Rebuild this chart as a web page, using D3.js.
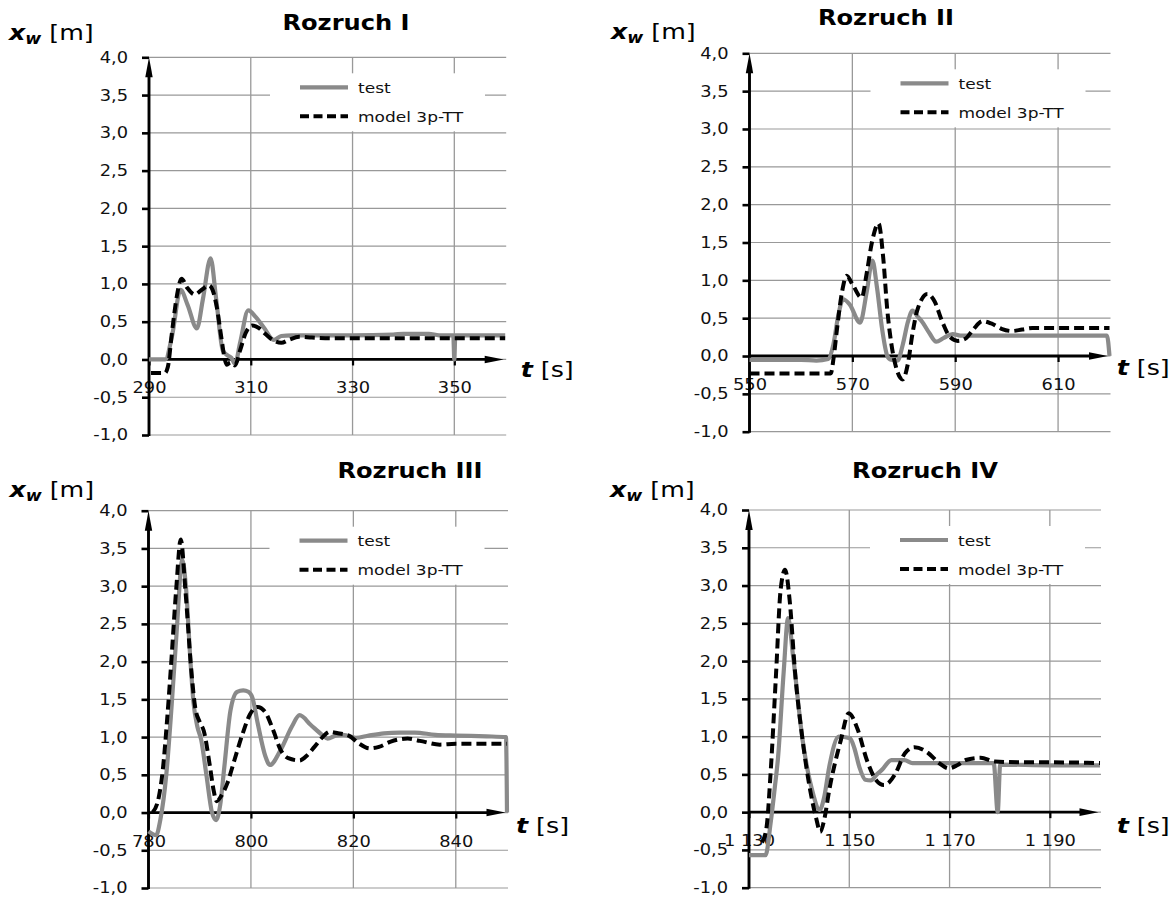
<!DOCTYPE html>
<html><head><meta charset="utf-8">
<script src="https://cdn.jsdelivr.net/npm/d3@7"></script>
<style>
html,body{margin:0;padding:0;background:#fff;}
svg{display:block;font-family:"DejaVu Sans",Verdana,sans-serif;}
</style></head><body>
<svg id="chart" width="1170" height="899"></svg>
<script>
// ---------------- data ----------------
const titles = ["Rozruch I", "Rozruch II", "Rozruch III", "Rozruch IV"];
const seriesNames = ["test", "model 3p-TT"];
const yTickValues = [-1, -0.5, 0, 0.5, 1, 1.5, 2, 2.5, 3, 3.5, 4];
const yTickLabels = ["-1,0", "-0,5", "0,0", "0,5", "1,0", "1,5", "2,0", "2,5", "3,0", "3,5", "4,0"];
const xDomains = [[290, 360], [550, 620], [780, 850], [1130, 1200]];
const xTickValues = [[290, 310, 330, 350], [550, 570, 590, 610], [780, 800, 820, 840], [1130, 1150, 1170, 1190]];
const xTickLabels = [["290", "310", "330", "350"], ["550", "570", "590", "610"], ["780", "800", "820", "840"], ["1 130", "1 150", "1 170", "1 190"]];

const r1Test = [[290,0],[293.2,0],[294.5,0.3],[296.2,0.92],[297.6,0.72],[299.4,0.41],[300.6,0.8],[302.1,1.34],[303.2,0.8],[304.5,0.12],[305.5,0.05],[306.2,0.02],[306.9,-0.06],[307.9,0.22],[309.5,0.65],[311,0.56],[312.6,0.42],[314.5,0.26],[316,0.31],[318,0.32],[330,0.32],[338,0.33],[340,0.34],[345,0.34],[347,0.32],[349.8,0.32],[350,0],[350.2,0.32],[360,0.32]];
const r1Model = [[290.4,-0.18],[293.1,-0.18],[293.7,-0.1],[294.5,0.35],[295.5,0.85],[296.4,1.07],[297.5,0.95],[299,0.86],[300.5,0.93],[301.8,0.98],[302.5,0.92],[303.3,0.7],[304.3,0.25],[304.9,0],[305.3,-0.07],[306,-0.04],[306.9,-0.08],[307.9,0.12],[309,0.35],[310.3,0.45],[311.5,0.42],[313,0.33],[314.5,0.25],[316,0.22],[317.5,0.26],[319.5,0.3],[322,0.29],[326,0.28],[360,0.28]];

const r2Test = [[550,-0.05],[560,-0.05],[563,-0.06],[565.3,-0.04],[566.3,0.15],[567.3,0.55],[568.2,0.75],[569.5,0.68],[571.5,0.44],[572.8,0.85],[573.9,1.26],[574.8,0.9],[575.8,0.35],[576.8,0],[577.5,-0.05],[578.8,-0.06],[579.8,0.15],[580.8,0.45],[581.7,0.6],[582.7,0.52],[583.6,0.45],[585,0.3],[586.3,0.19],[587.8,0.24],[589.5,0.29],[591,0.27],[600,0.27],[619.5,0.27],[620,0]];
const r2Model = [[550,-0.23],[565.8,-0.23],[566.4,0],[567,0.35],[568,0.85],[568.9,1.06],[570,0.95],[571.8,0.77],[572.8,1.1],[573.8,1.5],[575.1,1.75],[576,1.3],[576.8,0.6],[577.5,0.2],[578.5,-0.15],[579.8,-0.31],[580.8,-0.1],[581.7,0.3],[582.6,0.6],[584.6,0.82],[586,0.72],[587.5,0.45],[589,0.25],[590.5,0.2],[592,0.23],[593.5,0.35],[595.3,0.46],[597,0.43],[599,0.36],[601,0.33],[603,0.35],[605,0.37],[620,0.37]];

const r3Test = [[780,-0.25],[781.5,-0.3],[782.3,-0.1],[783.5,0.52],[784.5,1.4],[785.5,2.4],[786.6,3.35],[787.3,3.0],[788.2,2.0],[788.8,1.45],[789.5,1.15],[790.3,0.96],[791.3,0.5],[792.4,0],[793.2,-0.1],[794,0.1],[794.8,0.6],[796,1.35],[797.3,1.6],[798.5,1.62],[799.5,1.6],[800.3,1.52],[801.3,1.19],[802.8,0.75],[803.7,0.63],[805.8,0.83],[808,1.14],[809.5,1.29],[811.7,1.16],[813.9,1.03],[815,0.98],[816.5,1.02],[818,1.03],[820.5,0.99],[823,1.02],[826,1.05],[829,1.06],[832,1.06],[836,1.03],[840,1.02],[846,1.01],[849.8,1.0],[850,0]];
const r3Model = [[780.8,0],[782,0.2],[782.8,0.57],[783.6,1.2],[784.3,1.85],[785.4,2.95],[786.3,3.62],[787.2,2.95],[788.4,1.85],[789.1,1.4],[790,1.2],[790.8,1.08],[792,0.61],[792.7,0.3],[793.3,0.15],[794.2,0.22],[795.4,0.39],[796.8,0.7],[798.4,1.05],[799.8,1.3],[801.3,1.4],[802.8,1.33],[804.3,1.1],[805.8,0.83],[807.3,0.72],[809.5,0.69],[811,0.76],[812.4,0.87],[814,1.0],[815.4,1.07],[817,1.05],[819.1,1.02],[821,0.92],[823.2,0.85],[825,0.87],[827.3,0.94],[830.6,0.98],[833,0.95],[836.9,0.9],[840,0.91],[845,0.91],[850,0.91]];

const r4Test = [[1130,-0.57],[1133.3,-0.57],[1134.3,-0.15],[1135.1,0.3],[1135.8,0.73],[1136.9,1.84],[1137.8,2.57],[1138.8,2.06],[1140.7,0.95],[1142.6,0.29],[1144.1,0.03],[1145,0.2],[1146,0.6],[1147.9,1.0],[1150.1,0.98],[1151,0.85],[1152,0.6],[1153.2,0.43],[1154.3,0.42],[1155.5,0.5],[1156.5,0.56],[1158.4,0.69],[1161,0.69],[1162.6,0.65],[1170,0.65],[1178.8,0.65],[1179.6,0],[1180.1,0.63],[1190,0.62],[1200,0.62]];
const r4Model = [[1132.6,-0.4],[1133.5,-0.2],[1134.3,0.51],[1135.4,1.84],[1136.3,2.94],[1137.2,3.21],[1138.1,2.81],[1139.2,1.84],[1140.7,0.95],[1142.2,0.29],[1143.4,-0.08],[1144.2,-0.26],[1145,-0.1],[1146,0.29],[1148.3,0.95],[1149.9,1.31],[1151.7,1.09],[1153.5,0.69],[1155.4,0.42],[1156.9,0.36],[1158,0.4],[1159.2,0.51],[1161.1,0.78],[1163,0.86],[1165.6,0.79],[1167.9,0.65],[1169.8,0.58],[1171.5,0.62],[1173.2,0.69],[1176.2,0.72],[1179,0.67],[1185,0.66],[1190,0.66],[1200,0.65]];

const testSeries = [r1Test, r2Test, r3Test, r4Test];
const modelSeries = [r1Model, r2Model, r3Model, r4Model];

// ---------------- layout ----------------
const SX = 1.15; // horizontal stretch of glyphs
const layout = [
  {x0:149, x1:505.2, yTop:57.3, yBot:435,   title:[346,30],  yl:[9,39.5],    xl:[520.7,376.5]},
  {x0:749.5, x1:1109.5, yTop:53.3, yBot:431.7, title:[886,25], yl:[611,39], xl:[1116.7,375]},
  {x0:148.5, x1:507, yTop:510.7, yBot:888,  title:[410,478], yl:[9.4,496.5], xl:[516,833]},
  {x0:749, x1:1100, yTop:510, yBot:887.7,   title:[925,478], yl:[610,496.5], xl:[1116.7,833]}
];
const GRAY = "#8a8a8a", GRID = "#999999", INK = "#111";
const LW = 4.2;

const svg = d3.select("#chart");

function stext(g, x, y, anchor) {
  return g.append("text")
    .attr("transform", `translate(${x},${y}) scale(${SX},1)`)
    .attr("text-anchor", anchor || "start")
    .attr("fill", INK);
}

function drawPanel(i) {
  const L = layout[i];
  const g = svg.append("g");
  const x = d3.scaleLinear().domain(xDomains[i]).range([L.x0, L.x1]);
  const y = d3.scaleLinear().domain([-1, 4]).range([L.yBot, L.yTop]);
  const ax = L.x0, y0 = y(0);

  // gridlines
  g.append("g").selectAll("line").data(yTickValues).join("line")
    .attr("x1", ax).attr("x2", L.x1 + 1)
    .attr("y1", d => y(d)).attr("y2", d => y(d))
    .attr("stroke", GRID).attr("stroke-width", 1.2);
  g.append("g").selectAll("line").data(xTickValues[i].slice(1)).join("line")
    .attr("x1", d => x(d)).attr("x2", d => x(d))
    .attr("y1", y(4)).attr("y2", y(-1))
    .attr("stroke", GRID).attr("stroke-width", 1.3);

  // legend background
  g.append("rect").attr("x", ax + 121).attr("y", L.yTop + 16)
    .attr("width", 215).attr("height", 58).attr("fill", "#fff");

  // y axis ticks + labels
  const yAxis = d3.axisLeft(y).tickValues(yTickValues)
    .tickFormat((d, k) => yTickLabels[k]).tickSize(7).tickPadding(14);
  const ya = g.append("g").attr("transform", `translate(${ax},0)`).call(yAxis);
  ya.select(".domain").remove();
  ya.selectAll(".tick line").attr("stroke", "#000").attr("stroke-width", 2.6);
  ya.selectAll(".tick text").attr("x", -21 / SX).attr("transform", `scale(${SX},1)`)
    .attr("fill", INK).style("font-size", "15.5px").style("font-family", "DejaVu Sans");

  // x axis ticks + labels
  const xAxis = d3.axisBottom(x).tickValues(xTickValues[i])
    .tickFormat((d, k) => xTickLabels[i][k]).tickSize(6).tickPadding(17);
  const xa = g.append("g").attr("transform", `translate(0,${y0})`).call(xAxis);
  xa.select(".domain").remove();
  xa.selectAll(".tick line").attr("stroke", "#000").attr("stroke-width", 2.2);
  xa.selectAll(".tick text").attr("transform", `scale(${SX},1)`)
    .attr("fill", INK).style("font-size", "15.5px").style("font-family", "DejaVu Sans");

  // axis lines with arrows
  const tipY = y(4);
  g.append("line").attr("x1", ax).attr("x2", ax).attr("y1", y(-1) + 1).attr("y2", tipY + 16)
    .attr("stroke", "#000").attr("stroke-width", 2.9);
  g.append("path").attr("d", `M${ax},${tipY} L${ax - 3.7},${tipY + 20} L${ax + 3.7},${tipY + 20} Z`).attr("fill", "#000");
  const tipX = L.x1 - 1.5;
  g.append("line").attr("x1", ax).attr("x2", tipX - 16).attr("y1", y0).attr("y2", y0)
    .attr("stroke", "#000").attr("stroke-width", 2.8);
  g.append("path").attr("d", `M${tipX},${y0} L${tipX - 19},${y0 - 3.8} L${tipX - 19},${y0 + 3.8} Z`).attr("fill", "#000");

  // series
  const line = d3.line().x(d => x(d[0])).y(d => y(d[1])).curve(d3.curveMonotoneX);
  g.append("path").datum(testSeries[i]).attr("d", line)
    .attr("fill", "none").attr("stroke", GRAY).attr("stroke-width", LW)
    .attr("stroke-linejoin", "round");
  g.append("path").datum(modelSeries[i]).attr("d", line)
    .attr("fill", "none").attr("stroke", "#000").attr("stroke-width", 4)
    .attr("stroke-dasharray", "10,5");

  // legend
  const lx = ax + 151, lw = 48;
  g.append("line").attr("x1", lx).attr("x2", lx + lw).attr("y1", L.yTop + 30).attr("y2", L.yTop + 30)
    .attr("stroke", GRAY).attr("stroke-width", LW);
  g.append("line").attr("x1", lx).attr("x2", lx + lw).attr("y1", L.yTop + 59).attr("y2", L.yTop + 59)
    .attr("stroke", "#000").attr("stroke-width", 4).attr("stroke-dasharray", "9,4.5");
  stext(g, ax + 209, L.yTop + 35.5).style("font-size", "14.8px").text(seriesNames[0]);
  stext(g, ax + 209, L.yTop + 64.5).style("font-size", "14.8px").text(seriesNames[1]);

  // title
  stext(g, L.title[0], L.title[1], "middle").attr("fill", "#000")
    .style("font-size", "21px").style("font-weight", "bold").text(titles[i]);

  // y axis title  x_w [m]
  const yt = stext(g, L.yl[0], L.yl[1]).attr("fill", "#000").style("font-size", "22px");
  yt.append("tspan").style("font-weight", "bold").style("font-style", "italic").text("x");
  yt.append("tspan").style("font-weight", "bold").style("font-style", "italic")
    .style("font-size", "15px").attr("dy", 4).text("w");
  yt.append("tspan").attr("dy", -4).text("\u00a0[m]");

  // x axis title  t [s]
  const xt = stext(g, L.xl[0], L.xl[1]).attr("fill", "#000").style("font-size", "22px");
  xt.append("tspan").style("font-weight", "bold").style("font-style", "italic").text("t");
  xt.append("tspan").text("\u00a0[s]");
}

for (let i = 0; i < 4; i++) drawPanel(i);
</script>
</body></html>
